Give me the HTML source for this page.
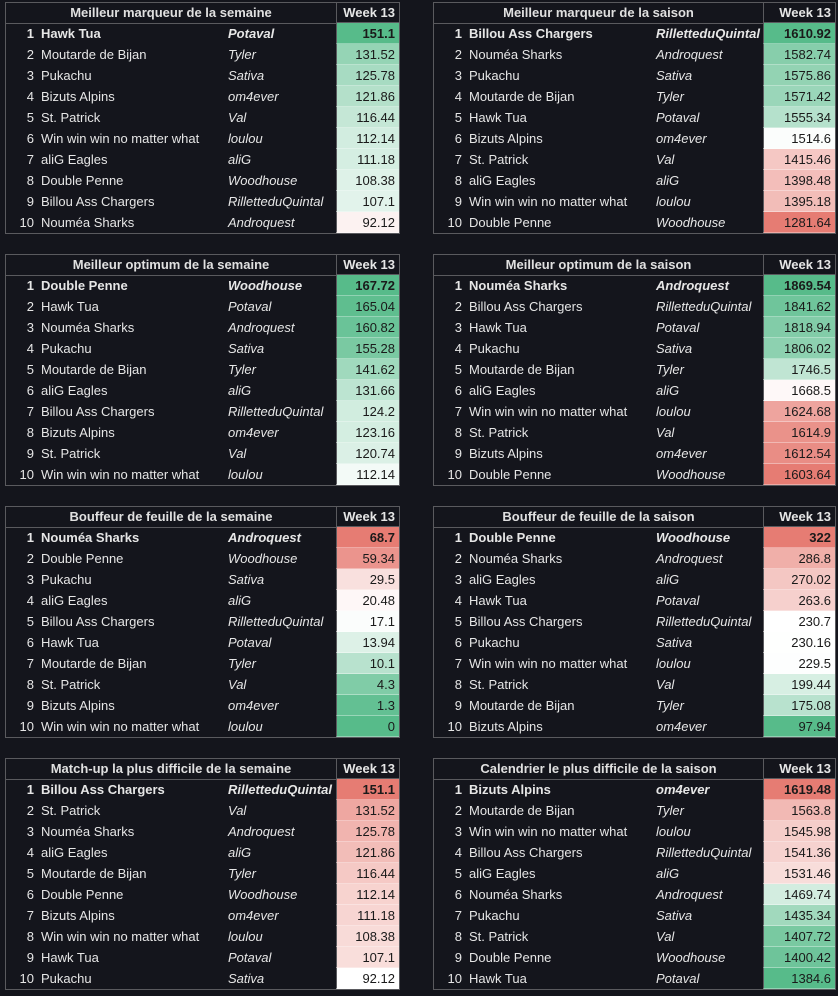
<!DOCTYPE html>
<html><head><meta charset="utf-8">
<style>
body{margin:0;width:838px;height:996px;background:#14151c;font-family:"Liberation Sans",Arial,sans-serif;font-size:13px;color:#e6e6e6;position:relative;overflow:hidden}
.tbl{position:absolute;border:1px solid #5a5a5e;box-sizing:border-box;height:232px}
.hdr{position:absolute;left:0;top:0;height:20px;border-bottom:1px solid #5a5a5e;font-weight:bold;line-height:20px;text-align:center;color:#e0e0e0}
.wk{position:absolute;top:0;height:20px;border-left:1px solid #5a5a5e;border-bottom:1px solid #5a5a5e;font-weight:bold;line-height:20px;text-align:right;padding-right:4px;box-sizing:border-box}
.row{position:absolute;left:0;height:21px;line-height:21px;width:100%}
.rk{position:absolute;text-align:right;width:28px;left:0}
.nm{position:absolute;left:35px}
.pl{position:absolute;left:222px;font-style:italic}
.val{position:absolute;top:0;height:21px;text-align:right;padding-right:4px;box-sizing:border-box;color:#1a1a1a;border-left:1px solid #5a5a5e;border-bottom:1px solid rgba(255,255,255,0.35)}
.b{font-weight:bold}
</style></head><body>
<script>
const titles=["Meilleur marqueur de la semaine","Meilleur marqueur de la saison","Meilleur optimum de la semaine","Meilleur optimum de la saison","Bouffeur de feuille de la semaine","Bouffeur de feuille de la saison","Match-up la plus difficile de la semaine","Calendrier le plus difficile de la saison"];
const teams=[
["Hawk Tua","Moutarde de Bijan","Pukachu","Bizuts Alpins","St. Patrick","Win win win no matter what","aliG Eagles","Double Penne","Billou Ass Chargers","Nouméa Sharks"],
["Billou Ass Chargers","Nouméa Sharks","Pukachu","Moutarde de Bijan","Hawk Tua","Bizuts Alpins","St. Patrick","aliG Eagles","Win win win no matter what","Double Penne"],
["Double Penne","Hawk Tua","Nouméa Sharks","Pukachu","Moutarde de Bijan","aliG Eagles","Billou Ass Chargers","Bizuts Alpins","St. Patrick","Win win win no matter what"],
["Nouméa Sharks","Billou Ass Chargers","Hawk Tua","Pukachu","Moutarde de Bijan","aliG Eagles","Win win win no matter what","St. Patrick","Bizuts Alpins","Double Penne"],
["Nouméa Sharks","Double Penne","Pukachu","aliG Eagles","Billou Ass Chargers","Hawk Tua","Moutarde de Bijan","St. Patrick","Bizuts Alpins","Win win win no matter what"],
["Double Penne","Nouméa Sharks","aliG Eagles","Hawk Tua","Billou Ass Chargers","Pukachu","Win win win no matter what","St. Patrick","Moutarde de Bijan","Bizuts Alpins"],
["Billou Ass Chargers","St. Patrick","Nouméa Sharks","aliG Eagles","Moutarde de Bijan","Double Penne","Bizuts Alpins","Win win win no matter what","Hawk Tua","Pukachu"],
["Bizuts Alpins","Moutarde de Bijan","Win win win no matter what","Billou Ass Chargers","aliG Eagles","Nouméa Sharks","Pukachu","St. Patrick","Double Penne","Hawk Tua"]];
const owner={"Hawk Tua":"Potaval","Moutarde de Bijan":"Tyler","Pukachu":"Sativa","Bizuts Alpins":"om4ever","St. Patrick":"Val","Win win win no matter what":"loulou","aliG Eagles":"aliG","Double Penne":"Woodhouse","Billou Ass Chargers":"RilletteduQuintal","Nouméa Sharks":"Androquest"};
const values=[
["151.1","131.52","125.78","121.86","116.44","112.14","111.18","108.38","107.1","92.12"],
["1610.92","1582.74","1575.86","1571.42","1555.34","1514.6","1415.46","1398.48","1395.18","1281.64"],
["167.72","165.04","160.82","155.28","141.62","131.66","124.2","123.16","120.74","112.14"],
["1869.54","1841.62","1818.94","1806.02","1746.5","1668.5","1624.68","1614.9","1612.54","1603.64"],
["68.7","59.34","29.5","20.48","17.1","13.94","10.1","4.3","1.3","0"],
["322","286.8","270.02","263.6","230.7","230.16","229.5","199.44","175.08","97.94"],
["151.1","131.52","125.78","121.86","116.44","112.14","111.18","108.38","107.1","92.12"],
["1619.48","1563.8","1545.98","1541.36","1531.46","1469.74","1435.34","1407.72","1400.42","1384.6"]];
// color scale points: [red end, white mid, green end]
const scaleLo=[40,1281.64,60,1603.64,68.7,322,151.1,1619.48];
const scaleMid=[98,1512,108,1672,17.5,231,92.12,1500];
const scaleHi=[151.1,1610.92,167.72,1869.54,0,97.94,60,1384.6];
function col(v,i){const lo=scaleLo[i],mid=scaleMid[i],hi=scaleHi[i];
 const W=[255,255,255],G=[87,187,138],R=[230,124,115];let t,A,B;
 const towardHi=(hi>lo)?v>=mid:v<=mid;
 if(towardHi){t=(v-mid)/(hi-mid);A=W;B=G}else{t=(v-mid)/(lo-mid);A=W;B=R}
 t=Math.max(0,Math.min(1,t));
 return 'rgb('+A.map((a,k)=>Math.round(a+(B[k]-a)*t)).join(',')+')';}
for(let i=0;i<8;i++){
 const left=i%2===0,x=left?5:433,w=left?395:403,vw=left?63:72,y=2+252*Math.floor(i/2);
 const t=document.createElement('div');t.className='tbl';
 
 
 t.style.cssText='left:'+x+'px;top:'+y+'px;width:'+w+'px';
 const h=document.createElement('div');h.className='hdr';h.textContent=titles[i];
 
 
 h.style.width=(w-2-vw)+'px';t.appendChild(h);
 const wk=document.createElement('div');wk.className='wk';wk.textContent='Week 13';
 
 
 wk.style.cssText+='left:'+(w-2-vw)+'px;width:'+vw+'px';t.appendChild(wk);
 for(let r=0;r<10;r++){
  const row=document.createElement('div');row.className='row'+(r===0?' b':'');
  
  
  row.style.top=(20+r*21)+'px';
  const rk=document.createElement('span');rk.className='rk';rk.textContent=r+1;
  
  
  const nm=document.createElement('span');nm.className='nm';nm.textContent=teams[i][r];
  
  
  const pl=document.createElement('span');pl.className='pl';pl.textContent=owner[teams[i][r]];
  
  
  const v=document.createElement('span');v.className='val';v.textContent=values[i][r];
  
  
  v.style.cssText='left:'+(w-2-vw)+'px;width:'+vw+'px;background:'+col(parseFloat(values[i][r]),i);
  row.append(rk,nm,pl,v);t.appendChild(row);
 }
 document.body.appendChild(t);
}
</script>
</body></html>
